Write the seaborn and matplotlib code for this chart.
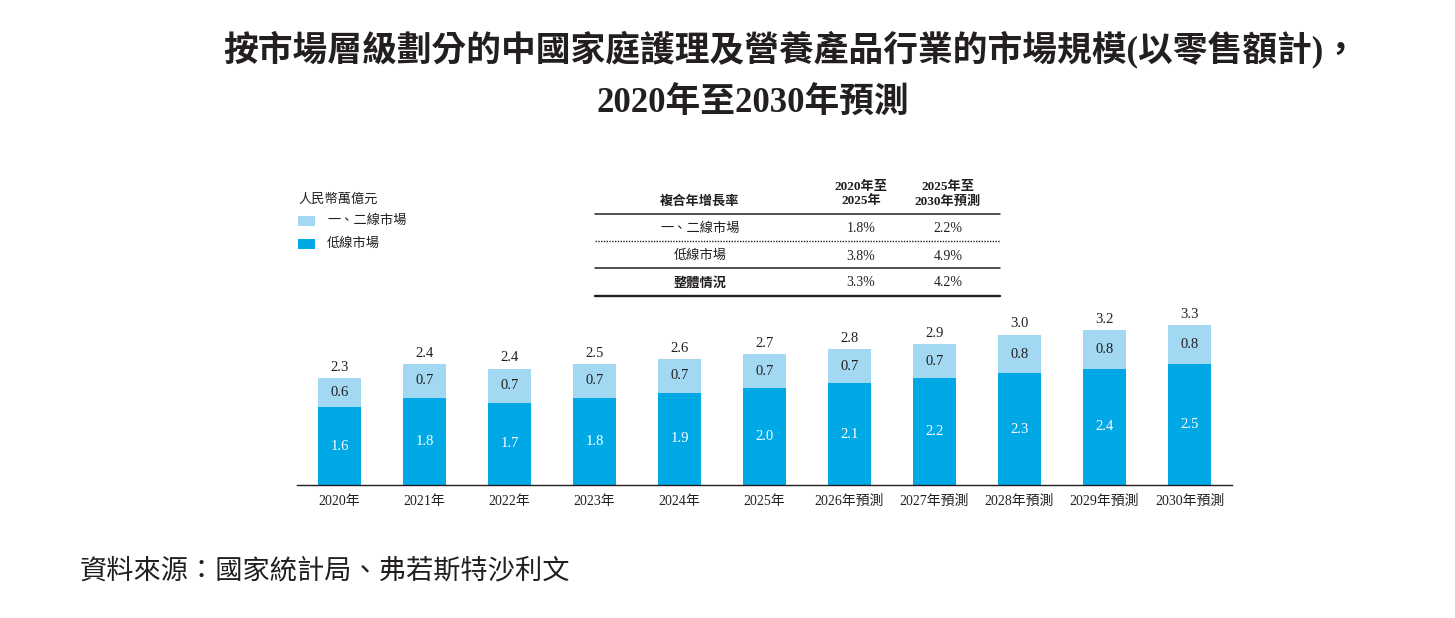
import matplotlib
matplotlib.use("Agg")
import matplotlib.pyplot as plt
import seaborn as sns
import pandas as pd
from matplotlib.patches import Rectangle
from matplotlib.lines import Line2D

# ---------------- data ----------------
years = ["2020年", "2021年", "2022年", "2023年", "2024年", "2025年",
         "2026年預測", "2027年預測", "2028年預測", "2029年預測", "2030年預測"]
lower_tier = [1.6, 1.8, 1.7, 1.8, 1.9, 2.0, 2.1, 2.2, 2.3, 2.4, 2.5]
tier12 = [0.6, 0.7, 0.7, 0.7, 0.7, 0.7, 0.7, 0.7, 0.8, 0.8, 0.8]
totals = [2.3, 2.4, 2.4, 2.5, 2.6, 2.7, 2.8, 2.9, 3.0, 3.2, 3.3]

series_names = ["一、二線市場", "低線市場"]
unit_label = "人民幣萬億元"

cagr_header = "複合年增長率"
cagr_cols = ["2020年至\n2025年", "2025年至\n2030年預測"]
cagr_rows = ["一、二線市場", "低線市場", "整體情況"]
cagr_2020_2025 = ["1.8%", "3.8%", "3.3%"]
cagr_2025_2030 = ["2.2%", "4.9%", "4.2%"]

title_line1 = "按市場層級劃分的中國家庭護理及營養產品行業的市場規模(以零售額計)，"
title_line2 = "2020年至2030年預測"
source_text = "資料來源：國家統計局、弗若斯特沙利文"

# ---------------- style ----------------
sns.set_theme(style="white")
plt.rcParams["font.family"] = ["Liberation Serif", "Noto Sans CJK TC", "DejaVu Sans"]

DARK = "#00A8E6"
LIGHT = "#A3D8F2"
TXT = "#231F20"

W, H = 1455, 618
fig = plt.figure(figsize=(W / 100, H / 100), dpi=100)


def fx(x):
    return x / W


def fy(y):
    return 1 - y / H


ax = fig.add_axes([fx(297), fy(485), fx(1232) - fx(297), fy(300) - fy(485)])

df = pd.DataFrame({"year": years, "lower": lower_tier, "tier12": tier12})
sns.barplot(data=df, x="year", y="lower", color=DARK, width=0.5, ax=ax,
            saturation=1, linewidth=0)
sns.barplot(data=df, x="year", y="tier12", color=LIGHT, width=0.5, ax=ax,
            saturation=1, linewidth=0, bottom=df["lower"])

ax.set_xlim(-0.5, len(years) - 0.5)
ax.set_ylim(0, 185 / 48.5)
ax.set_xlabel("")
ax.set_ylabel("")
ax.set_yticks([])
for s in ["top", "right", "left"]:
    ax.spines[s].set_visible(False)
ax.spines["bottom"].set_color(TXT)
ax.spines["bottom"].set_linewidth(1.0)
ax.tick_params(axis="x", length=0, pad=7, labelsize=10, colors=TXT)

for i in range(len(years)):
    lo, hi = lower_tier[i], tier12[i]
    ax.text(i, lo / 2, f"{lo:.1f}", ha="center", va="center", color="white", fontsize=10.5)
    ax.text(i, lo + hi / 2, f"{hi:.1f}", ha="center", va="center", color=TXT, fontsize=10.5)
    ax.annotate(f"{totals[i]:.1f}", (i, lo + hi), xytext=(0, 3), textcoords="offset points",
                ha="center", va="bottom", color=TXT, fontsize=10.5)

# ---------------- title ----------------
fig.text(fx(791), fy(49), title_line1, ha="center", va="center", fontsize=25,
         fontweight="bold", color=TXT)
fig.text(fx(753), fy(104), title_line2, ha="center", va="center", fontsize=25,
         fontweight="bold", color=TXT)

# ---------------- legend ----------------
fig.text(fx(298), fy(200), unit_label, ha="left", va="center", fontsize=9.5, color=TXT)
for k, (name, col) in enumerate(zip(series_names, [LIGHT, DARK])):
    yc = 221 + k * 23
    fig.patches.append(Rectangle((fx(298), fy(yc + 5)), fx(17), fy(0) - fy(10),
                                 transform=fig.transFigure, color=col, linewidth=0))
    fig.text(fx(327), fy(yc), name, ha="left", va="center", fontsize=9.5, color=TXT)

# ---------------- CAGR table ----------------
tx0, tx1 = fx(595), fx(1000)
fig.text(fx(700), fy(202), cagr_header, ha="center", va="center", fontsize=9.5,
         fontweight="bold", color=TXT)
for xc, lab in zip([861, 948], cagr_cols):
    fig.text(fx(xc), fy(194), lab, ha="center", va="center", fontsize=9.5,
             fontweight="bold", color=TXT, linespacing=1.3)

for yl, ls, lw in [(214, "-", 1.1), (241, (0, (1, 1)), 1.0), (268, "-", 1.1), (296, "-", 1.7)]:
    fig.add_artist(Line2D([tx0, tx1], [fy(yl), fy(yl)], transform=fig.transFigure,
                          color=TXT, linestyle=ls, linewidth=lw))

for r, (rl, v1, v2) in enumerate(zip(cagr_rows, cagr_2020_2025, cagr_2025_2030)):
    yc = [229, 256, 283][r]
    fig.text(fx(700), fy(yc), rl, ha="center", va="center", fontsize=9.5, color=TXT,
             fontweight="bold" if r == 2 else "normal")
    fig.text(fx(861), fy(yc), v1, ha="center", va="center", fontsize=10, color=TXT)
    fig.text(fx(948), fy(yc), v2, ha="center", va="center", fontsize=10, color=TXT)

# ---------------- source ----------------
fig.text(fx(80), fy(572), source_text, ha="left", va="center", fontsize=19.6,
         color=TXT, style="italic")

fig.savefig("out.png", dpi=100, facecolor="white")
